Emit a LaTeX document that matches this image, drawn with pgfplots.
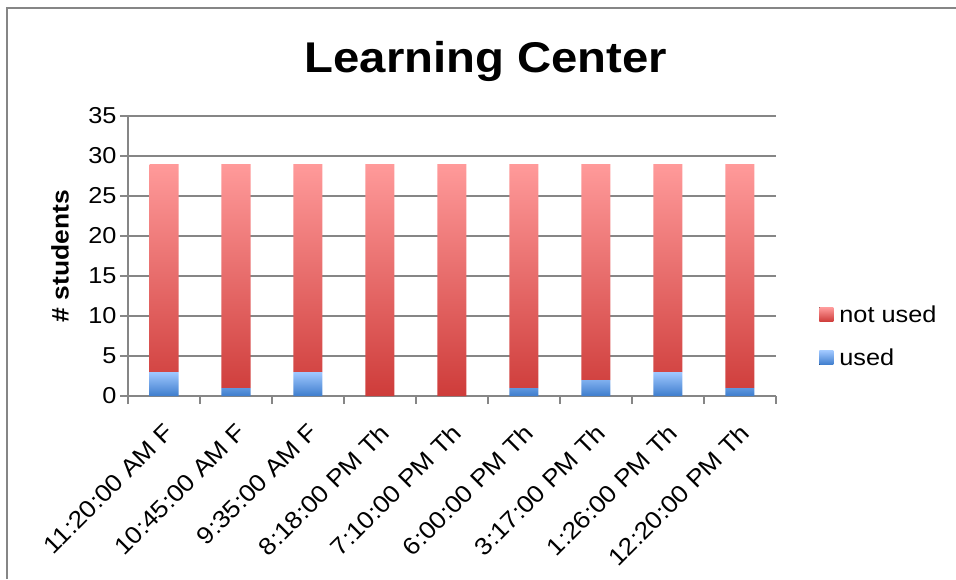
\documentclass[border=0pt]{standalone}
\usepackage{pgfplots}
\pgfplotsset{compat=1.18}
\usepackage{fontspec}
\setmainfont{Liberation Sans}[FakeStretch=1.1]
\definecolor{gridgray}{RGB}{134,134,134}
\definecolor{redtop}{RGB}{255,154,154}
\definecolor{redbot}{RGB}{206,60,58}
\definecolor{bluetop}{RGB}{160,200,255}
\definecolor{bluebot}{RGB}{62,125,205}
\begin{document}
\begin{tikzpicture}
\useasboundingbox (0,0) rectangle (956pt,579pt);
\draw[gridgray, line width=2pt] (7pt,0) -- (7pt,571pt) -- (956pt,571pt);
\begin{axis}[
 at={(128pt,183pt)}, anchor=south west,
 scale only axis, width=648pt, height=280pt,
 ybar stacked, bar width=29pt,
 xmin=-0.5, xmax=8.5, ymin=0, ymax=35,
 ytick={0,5,...,35},
 xtick={0,...,8},
 xticklabels={11:20:00 AM F, 10:45:00 AM F, 9:35:00 AM F, 8:18:00 PM Th, 7:10:00 PM Th, 6:00:00 PM Th, 3:17:00 PM Th, 1:26:00 PM Th, 12:20:00 PM Th},
 minor xtick={-0.5,0.5,...,8.5},
 every major x tick/.append style={draw=none},
 tick label style={font=\fontsize{23}{27}\selectfont},
 x tick label style={rotate=45, anchor=north east, inner sep=1pt, xshift=-12.5pt, yshift=-11pt, font=\fontsize{24}{28}\selectfont},
 axis x line*=bottom, axis y line*=left,
 axis line style={gridgray, line width=1.5pt, -},
 tick style={gridgray, line width=1.5pt},
 tick align=outside,
 major tick length=8pt, minor tick length=8pt,
 ymajorgrids, grid style={gridgray, line width=1.5pt},
 /pgf/number format/assume math mode=true,
 ylabel={\# students},
 every axis y label/.style={at={(rel axis cs:0,0.5)}, xshift=-68pt, rotate=90, anchor=center, font=\bfseries\fontsize{24}{28}\selectfont},
 title={Learning Center},
 title style={at={(0.5525,1.135)}, anchor=base, font=\bfseries\fontsize{43}{50}\selectfont},
 legend style={at={(1.062,0.214)}, anchor=west, draw=none, fill=none, font=\fontsize{23}{27}\selectfont, row sep=21pt},
 reverse legend,
 legend cell align=left,
 legend image code/.code={\fill[#1] (0pt,-7pt) rectangle (14pt,7pt);},
 legend style={/tikz/every odd column/.append style={column sep=4pt}},
]
\addplot[draw=none, top color=bluetop, bottom color=bluebot] coordinates {(0,3) (1,1) (2,3) (3,0) (4,0) (5,1) (6,2) (7,3) (8,1)};
\addlegendentry{used}
\addplot[draw=none, top color=redtop, bottom color=redbot] coordinates {(0,26) (1,28) (2,26) (3,29) (4,29) (5,28) (6,27) (7,26) (8,28)};
\addlegendentry{not used}
\end{axis}
\end{tikzpicture}
\end{document}
